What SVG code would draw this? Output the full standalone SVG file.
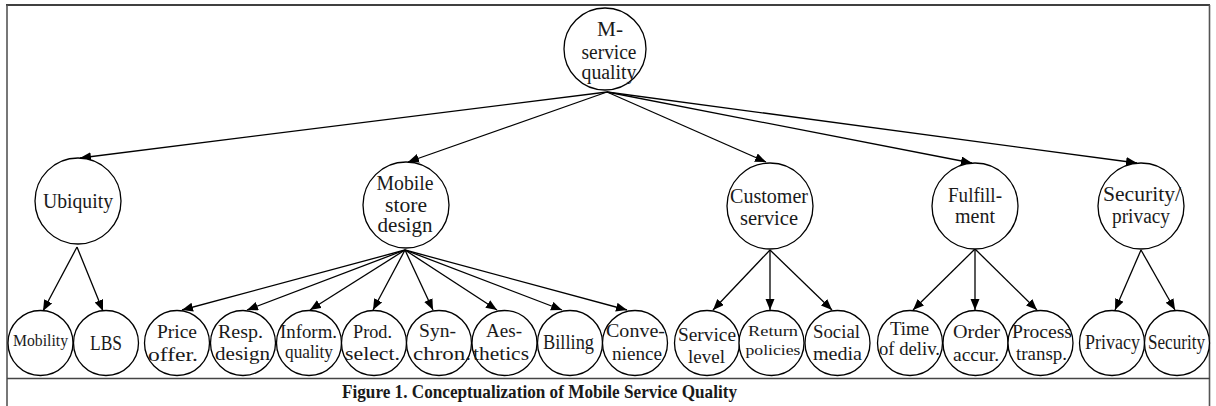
<svg xmlns="http://www.w3.org/2000/svg" width="1216" height="406" viewBox="0 0 1216 406">
<style>
.n{fill:#fff;stroke:#000;stroke-width:1.3}
.t{font-family:"Liberation Serif","Times New Roman",serif;fill:#1a1a1a;text-anchor:middle}
.c{stroke:#000;stroke-width:1.3;fill:none;marker-end:url(#ah)}
.cap{font-family:"Liberation Serif","Times New Roman",serif;font-weight:bold;fill:#1a1a1a;text-anchor:middle;font-size:19px}
</style>
<defs>
<marker id="ah" markerUnits="userSpaceOnUse" markerWidth="12" markerHeight="10" refX="11" refY="4.5" orient="auto">
<path d="M0,0 L11,4.5 L0,9 Z" fill="#000"/>
</marker>
</defs>
<rect x="0" y="0" width="1216" height="406" fill="#fff"/>
<g id="frame">
<line x1="6" y1="5" x2="1210" y2="5" stroke="#000" stroke-width="1.3"/>
<line x1="7" y1="5" x2="7" y2="406" stroke="#555" stroke-width="1.6"/>
<line x1="1209.5" y1="5" x2="1209.5" y2="406" stroke="#555" stroke-width="1.6"/>
<line x1="7" y1="378.5" x2="1210" y2="378.5" stroke="#444" stroke-width="1.6"/>
</g>
<g id="connectors">
<line class="c" x1="607" y1="92" x2="80" y2="158"/>
<line class="c" x1="607" y1="92" x2="408" y2="162"/>
<line class="c" x1="607" y1="92" x2="766" y2="162"/>
<line class="c" x1="607" y1="92" x2="972" y2="163"/>
<line class="c" x1="607" y1="92" x2="1137" y2="163"/>
<line class="c" x1="77" y1="247" x2="43" y2="311"/>
<line class="c" x1="77" y1="247" x2="103" y2="311"/>
<line class="c" x1="405" y1="250" x2="182" y2="310"/>
<line class="c" x1="405" y1="250" x2="247" y2="310"/>
<line class="c" x1="405" y1="250" x2="310" y2="310"/>
<line class="c" x1="405" y1="250" x2="373" y2="310"/>
<line class="c" x1="405" y1="250" x2="433" y2="310"/>
<line class="c" x1="405" y1="250" x2="497" y2="310"/>
<line class="c" x1="405" y1="250" x2="562" y2="310"/>
<line class="c" x1="405" y1="250" x2="627" y2="310"/>
<line class="c" x1="770" y1="250" x2="713" y2="310"/>
<line class="c" x1="770" y1="250" x2="770" y2="310"/>
<line class="c" x1="770" y1="250" x2="832" y2="310"/>
<line class="c" x1="975" y1="249" x2="913" y2="310"/>
<line class="c" x1="975" y1="249" x2="975" y2="310"/>
<line class="c" x1="975" y1="249" x2="1037" y2="310"/>
<line class="c" x1="1141" y1="250" x2="1115" y2="310"/>
<line class="c" x1="1141" y1="250" x2="1175" y2="310"/>
</g>
<g id="root"><circle class="n" cx="605" cy="49" r="41"/>
<text class="t" font-size="20" x="610" y="36" textLength="26" lengthAdjust="spacingAndGlyphs">M-</text>
<text class="t" font-size="20" x="609" y="59" textLength="55" lengthAdjust="spacingAndGlyphs">service</text>
<text class="t" font-size="20" x="609" y="79" textLength="55" lengthAdjust="spacingAndGlyphs">quality</text></g>
<g id="ubiquity"><circle class="n" cx="78" cy="201" r="43"/>
<text class="t" font-size="21" x="78" y="208" textLength="70" lengthAdjust="spacingAndGlyphs">Ubiquity</text></g>
<g id="mobile-store-design"><circle class="n" cx="406" cy="205" r="43"/>
<text class="t" font-size="20" x="405" y="190" textLength="57" lengthAdjust="spacingAndGlyphs">Mobile</text>
<text class="t" font-size="20" x="406" y="212" textLength="42" lengthAdjust="spacingAndGlyphs">store</text>
<text class="t" font-size="20" x="405" y="232" textLength="55" lengthAdjust="spacingAndGlyphs">design</text></g>
<g id="customer-service"><circle class="n" cx="770" cy="206" r="43"/>
<text class="t" font-size="20" x="769" y="203" textLength="78" lengthAdjust="spacingAndGlyphs">Customer</text>
<text class="t" font-size="20" x="769" y="225" textLength="58" lengthAdjust="spacingAndGlyphs">service</text></g>
<g id="fulfillment"><circle class="n" cx="975" cy="206" r="43"/>
<text class="t" font-size="20" x="975" y="202" textLength="54" lengthAdjust="spacingAndGlyphs">Fulfill-</text>
<text class="t" font-size="20" x="975" y="223" textLength="40" lengthAdjust="spacingAndGlyphs">ment</text></g>
<g id="security-privacy"><circle class="n" cx="1141" cy="206" r="43"/>
<text class="t" font-size="20" x="1142" y="201" textLength="78" lengthAdjust="spacingAndGlyphs">Security/</text>
<text class="t" font-size="20" x="1141" y="223" textLength="58" lengthAdjust="spacingAndGlyphs">privacy</text></g>
<g id="mobility"><circle class="n" cx="40.5" cy="343" r="32.5"/>
<text class="t" font-size="16" x="40.5" y="346" textLength="55" lengthAdjust="spacingAndGlyphs">Mobility</text></g>
<g id="lbs"><circle class="n" cx="106" cy="343" r="32.5"/>
<text class="t" font-size="21" x="106" y="350" textLength="32" lengthAdjust="spacingAndGlyphs">LBS</text></g>
<g id="price-offer"><circle class="n" cx="177" cy="343" r="32.5"/>
<text class="t" font-size="19" x="177" y="338" textLength="40" lengthAdjust="spacingAndGlyphs">Price</text>
<text class="t" font-size="19" x="173" y="361" textLength="50" lengthAdjust="spacingAndGlyphs">offer.</text></g>
<g id="resp-design"><circle class="n" cx="243" cy="343" r="32.5"/>
<text class="t" font-size="19" x="240.5" y="338" textLength="45" lengthAdjust="spacingAndGlyphs">Resp.</text>
<text class="t" font-size="19" x="242.5" y="360" textLength="55" lengthAdjust="spacingAndGlyphs">design</text></g>
<g id="inform-quality"><circle class="n" cx="309" cy="343" r="32.5"/>
<text class="t" font-size="19" x="308.5" y="338" textLength="57" lengthAdjust="spacingAndGlyphs">Inform.</text>
<text class="t" font-size="19" x="309" y="358" textLength="48" lengthAdjust="spacingAndGlyphs">quality</text></g>
<g id="prod-select"><circle class="n" cx="374" cy="343" r="32.5"/>
<text class="t" font-size="19" x="372.5" y="338" textLength="39" lengthAdjust="spacingAndGlyphs">Prod.</text>
<text class="t" font-size="19" x="372.5" y="360" textLength="55" lengthAdjust="spacingAndGlyphs">select.</text></g>
<g id="synchron"><circle class="n" cx="439" cy="343" r="32.5"/>
<text class="t" font-size="19" x="437.5" y="337" textLength="37" lengthAdjust="spacingAndGlyphs">Syn-</text>
<text class="t" font-size="19" x="442" y="360" textLength="58" lengthAdjust="spacingAndGlyphs">chron.</text></g>
<g id="aesthetics"><circle class="n" cx="504.5" cy="343" r="32.5"/>
<text class="t" font-size="19" x="504" y="337" textLength="36" lengthAdjust="spacingAndGlyphs">Aes-</text>
<text class="t" font-size="19" x="501" y="360" textLength="56" lengthAdjust="spacingAndGlyphs">thetics</text></g>
<g id="billing"><circle class="n" cx="570" cy="343" r="32.5"/>
<text class="t" font-size="21" x="568.5" y="349" textLength="51" lengthAdjust="spacingAndGlyphs">Billing</text></g>
<g id="convenience"><circle class="n" cx="635" cy="343" r="32.5"/>
<text class="t" font-size="19" x="635.5" y="337" textLength="59" lengthAdjust="spacingAndGlyphs">Conve-</text>
<text class="t" font-size="19" x="637" y="360" textLength="50" lengthAdjust="spacingAndGlyphs">nience</text></g>
<g id="service-level"><circle class="n" cx="707" cy="343" r="32.5"/>
<text class="t" font-size="19" x="707" y="341" textLength="58" lengthAdjust="spacingAndGlyphs">Service</text>
<text class="t" font-size="19" x="706.5" y="363" textLength="37" lengthAdjust="spacingAndGlyphs">level</text></g>
<g id="return-policies"><circle class="n" cx="771.5" cy="343" r="32.5"/>
<text class="t" font-size="14" x="773" y="336" textLength="50" lengthAdjust="spacingAndGlyphs">Return</text>
<text class="t" font-size="14" x="773" y="355" textLength="55" lengthAdjust="spacingAndGlyphs">policies</text></g>
<g id="social-media"><circle class="n" cx="837.5" cy="343" r="32.5"/>
<text class="t" font-size="19" x="836.5" y="338" textLength="47" lengthAdjust="spacingAndGlyphs">Social</text>
<text class="t" font-size="19" x="837.5" y="360" textLength="49" lengthAdjust="spacingAndGlyphs">media</text></g>
<g id="time-of-delivery"><circle class="n" cx="910" cy="343" r="32.5"/>
<text class="t" font-size="18" x="909.5" y="335" textLength="39" lengthAdjust="spacingAndGlyphs">Time</text>
<text class="t" font-size="18" x="909.5" y="355" textLength="61" lengthAdjust="spacingAndGlyphs">of deliv.</text></g>
<g id="order-accuracy"><circle class="n" cx="975.5" cy="343" r="32.5"/>
<text class="t" font-size="19" x="976.5" y="338" textLength="47" lengthAdjust="spacingAndGlyphs">Order</text>
<text class="t" font-size="19" x="976" y="361" textLength="46" lengthAdjust="spacingAndGlyphs">accur.</text></g>
<g id="process-transparency"><circle class="n" cx="1040.5" cy="343" r="32.5"/>
<text class="t" font-size="19" x="1042" y="338" textLength="60" lengthAdjust="spacingAndGlyphs">Process</text>
<text class="t" font-size="19" x="1041.5" y="360" textLength="51" lengthAdjust="spacingAndGlyphs">transp.</text></g>
<g id="privacy"><circle class="n" cx="1112" cy="343" r="32.5"/>
<text class="t" font-size="21" x="1112.5" y="349" textLength="55" lengthAdjust="spacingAndGlyphs">Privacy</text></g>
<g id="security"><circle class="n" cx="1177" cy="343" r="32.5"/>
<text class="t" font-size="21" x="1176.5" y="349" textLength="57" lengthAdjust="spacingAndGlyphs">Security</text></g>
<text class="cap" x="539.5" y="398" textLength="395" lengthAdjust="spacingAndGlyphs">Figure 1. Conceptualization of Mobile Service Quality</text>
</svg>
